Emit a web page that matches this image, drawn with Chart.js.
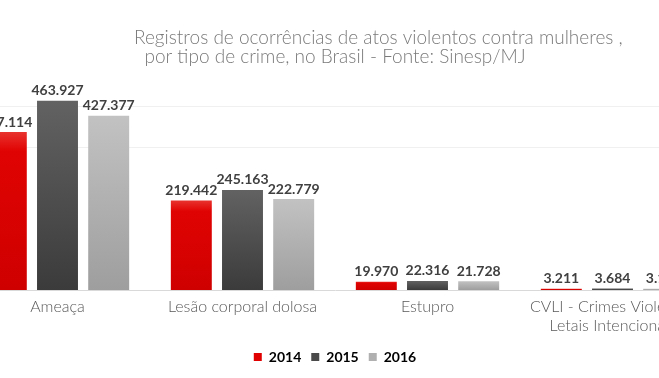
<!DOCTYPE html>
<html>
<head>
<meta charset="utf-8">
<script src="https://cdn.jsdelivr.net/npm/chart.js@4/dist/chart.umd.min.js"></script>
<style>
html,body{margin:0;padding:0;background:#fff;overflow:hidden;width:659px;height:378px;}
#wrap{position:absolute;left:-40px;top:0;width:750px;height:374px;}
</style>
</head>
<body>
<div id="wrap"><canvas id="c"></canvas></div>
<script>
const categories = ['Ameaça', 'Lesão corporal dolosa', 'Estupro', ['CVLI - Crimes Violentos', 'Letais Intencionais']];
const seriesNames = ['2014', '2015', '2016'];
const values2014 = [387114, 219442, 19970, 3211];
const values2015 = [463927, 245163, 22316, 3684];
const values2016 = [427377, 222779, 21728, 3150];
const gridValues = [350000, 450000];
const titleLines = ['Registros de ocorrências de atos violentos contra mulheres ,', 'por tipo de crime, no Brasil - Fonte: Sinesp/MJ'];

const gradStops = [
  [[0, '#e8332e'], [0.12, '#e00303'], [1, '#cf0000']],
  [[0, '#626262'], [1, '#3b3b3b']],
  [[0, '#c2c2c2'], [1, '#9e9e9e']]
];
const solid = ['#e00000', '#4a4a4a', '#b0b0b0'];

function barGradient(i) {
  return function(ctx) {
    const chart = ctx.chart;
    if (!chart.chartArea || ctx.raw == null) return solid[i];
    const y = chart.scales.y;
    const top = y.getPixelForValue(ctx.raw);
    const bottom = y.getPixelForValue(0);
    if (bottom - top < 1) return solid[i];
    const g = chart.ctx.createLinearGradient(0, top, 0, bottom);
    gradStops[i].forEach(s => g.addColorStop(s[0], s[1]));
    return g;
  };
}

function fmt(v) {
  return String(v).replace(/\B(?=(\d{3})+(?!\d))/g, '.');
}

const valueLabels = {
  id: 'valueLabels',
  afterDatasetsDraw(chart) {
    const c = chart.ctx;
    c.save();
    c.font = 'bold 14px Lato, "DejaVu Sans", sans-serif';
    c.fillStyle = '#404040';
    c.textAlign = 'center';
    c.textBaseline = 'bottom';
    chart.data.datasets.forEach((ds, di) => {
      chart.getDatasetMeta(di).data.forEach((bar, i) => {
        c.fillText(fmt(ds.data[i]), bar.x, bar.y - 3);
      });
    });
    c.restore();
  }
};

new Chart(document.getElementById('c'), {
  type: 'bar',
  data: {
    labels: categories,
    datasets: [
      { label: seriesNames[0], data: values2014, backgroundColor: barGradient(0) },
      { label: seriesNames[1], data: values2015, backgroundColor: barGradient(1) },
      { label: seriesNames[2], data: values2016, backgroundColor: barGradient(2) }
    ]
  },
  options: {
    responsive: true,
    maintainAspectRatio: false,
    animation: false,
    layout: { padding: { left: 5, right: 5, top: 0, bottom: 0 } },
    datasets: { bar: { categoryPercentage: 0.83, barPercentage: 0.8 } },
    plugins: {
      legend: {
        position: 'bottom',
        labels: {
          boxWidth: 8, boxHeight: 8, padding: 10,
          color: '#404040',
          font: { family: 'Lato, "DejaVu Sans", sans-serif', size: 14, weight: 'bold' },
          generateLabels(chart) {
            return chart.data.datasets.map((ds, i) => ({
              text: ds.label, fillStyle: solid[i], strokeStyle: solid[i], lineWidth: 0, datasetIndex: i
            }));
          }
        }
      },
      title: {
        display: true,
        text: ['\u2003\u2003\u2003\u2003\u2003   ' + titleLines[0], titleLines[1]],
        color: '#7a7a7a',
        font: { family: 'Lato, "Open Sans", sans-serif', size: 19, weight: '300', lineHeight: 1.0 },
        padding: { top: 28, bottom: 20 }
      },
      tooltip: { enabled: false }
    },
    scales: {
      x: {
        grid: { display: false, drawTicks: false },
        border: { display: true, color: '#d9d9d9', width: 1 },
        ticks: {
          padding: 8,
          color: '#595959',
          font: { family: 'Lato, "Open Sans", sans-serif', size: 16, weight: '300', lineHeight: 1.15 }
        },
        afterFit(s) { s.height = 50; }
      },
      y: {
        min: 0, max: 500000,
        display: true,
        afterBuildTicks(s) { s.ticks = gridValues.map(v => ({ value: v })); },
        grid: { color: '#f0f0f0', drawTicks: false },
        border: { display: false },
        ticks: { display: false },
        afterFit(s) { s.width = 0; }
      }
    }
  },
  plugins: [valueLabels]
});
</script>
</body>
</html>
